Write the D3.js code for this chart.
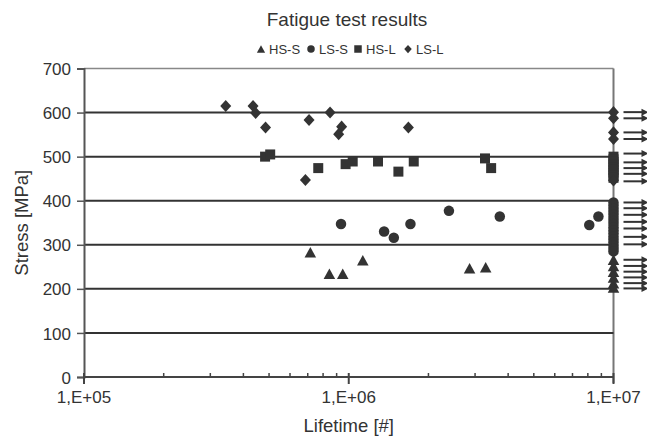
<!DOCTYPE html>
<html>
<head>
<meta charset="utf-8">
<script src="https://cdn.jsdelivr.net/npm/d3@7"></script>
<style>
  body { margin: 0; background: #fff; }
  text { font-family: "Liberation Sans", Arial, sans-serif; fill: #333; }
</style>
</head>
<body>
<div id="chart"></div>
<script>
// series data: [lifetime, stress]
const hsS = [[7.16e5, 283], [8.45e5, 234], [9.49e5, 234], [1.13e6, 265], [2.86e6, 247], [3.29e6, 249]];
const lsS = [[9.35e5, 347], [1.36e6, 330], [1.48e6, 316], [1.71e6, 347], [2.39e6, 377], [3.72e6, 364], [8.1e6, 345], [8.77e6, 364]];
const hsL = [[4.83e5, 500], [5.05e5, 505], [7.67e5, 474], [9.73e5, 483], [1.035e6, 489], [1.29e6, 489], [1.54e6, 466], [1.76e6, 489], [3.27e6, 496], [3.45e6, 474]];
const lsL = [[3.43e5, 615], [4.35e5, 615], [4.45e5, 599], [4.85e5, 566], [7.08e5, 583], [8.5e5, 600], [9.4e5, 568], [9.16e5, 551], [1.68e6, 566], [6.86e5, 447]];

// run-outs at the 1E+07 limit (stress only)
const runoutN = 1e7;
const hsSRunout = [266, 252, 239, 226, 213, 203];
const lsSRunout = [396, 389, 382, 375, 368, 361, 354, 347, 340, 333, 326, 319, 312, 305, 298, 291, 285];
const hsLRunout = [500, 494, 488, 482, 476, 470, 464, 458, 452];
const lsLRunout = [601, 587, 555, 540, 446];
const arrowStress = [601, 587, 555, 540, 507, 487, 474, 461, 444, 396, 383, 368, 352, 337, 318, 301, 266, 252, 239, 226, 213, 201];

const xTicks = [1e5, 1e6, 1e7];
const xTickLabels = ["1,E+05", "1,E+06", "1,E+07"];
const yTicks = [0, 100, 200, 300, 400, 500, 600, 700];
const gridStress = [100, 200, 300, 400, 500, 600];
const legendNames = ["HS-S", "LS-S", "HS-L", "LS-L"];

const W = 647, H = 444;
const margin = { left: 84, right: 33.5, top: 68.5, bottom: 67 };
const ink = "#333";

const svg = d3.select("#chart").append("svg")
  .attr("width", W).attr("height", H);

const x = d3.scaleLog().domain([1e5, 1e7]).range([margin.left, W - margin.right]);
const y = d3.scaleLinear().domain([0, 700]).range([H - margin.bottom, margin.top]);

// plot border (top + right)
svg.append("line")
  .attr("x1", x(1e5)).attr("x2", x(1e7))
  .attr("y1", y(700)).attr("y2", y(700))
  .attr("stroke", "#888").attr("stroke-width", 1.5);
svg.append("line")
  .attr("x1", x(1e7)).attr("x2", x(1e7))
  .attr("y1", y(700)).attr("y2", y(0) + 6)
  .attr("stroke", "#777").attr("stroke-width", 2);

// gridlines
svg.append("g").selectAll("line")
  .data(gridStress)
  .join("line")
    .attr("x1", x(1e5)).attr("x2", x(1e7))
    .attr("y1", d => y(d)).attr("y2", d => y(d))
    .attr("stroke", ink).attr("stroke-width", 2);

// y axis
const yAxis = svg.append("g")
  .attr("transform", `translate(${x(1e5)},0)`)
  .call(d3.axisLeft(y).tickValues(yTicks).tickSize(7).tickPadding(6));
yAxis.select(".domain").attr("stroke", "#555").attr("stroke-width", 2);
yAxis.selectAll(".tick line").attr("stroke", "#555").attr("stroke-width", 1.5);
yAxis.selectAll("text").style("font-size", "17px").attr("fill", ink).attr("dy", "0.36em");

// x axis: minor ticks pointing up, majors crossing
const minor = [];
[1e5, 1e6].forEach(dec => { for (let m = 2; m <= 9; m++) minor.push(dec * m); });
const xAxisG = svg.append("g");
xAxisG.append("line")
  .attr("x1", x(1e5)).attr("x2", x(1e7))
  .attr("y1", y(0)).attr("y2", y(0))
  .attr("stroke", "#444").attr("stroke-width", 2);
xAxisG.selectAll(".minor")
  .data(minor)
  .join("line")
    .attr("class", "minor")
    .attr("x1", d => x(d)).attr("x2", d => x(d))
    .attr("y1", y(0)).attr("y2", y(0) - 4)
    .attr("stroke", "#444").attr("stroke-width", 1.5);
xAxisG.selectAll(".major")
  .data(xTicks)
  .join("line")
    .attr("class", "major")
    .attr("x1", d => x(d)).attr("x2", d => x(d))
    .attr("y1", y(0) - 4).attr("y2", y(0) + 7)
    .attr("stroke", "#444").attr("stroke-width", 2);
xAxisG.selectAll("text")
  .data(xTicks)
  .join("text")
    .attr("x", d => x(d)).attr("y", y(0) + 26)
    .attr("text-anchor", "middle")
    .style("font-size", "17px")
    .text((d, i) => xTickLabels[i]);

// axis titles + title
svg.append("text")
  .attr("x", (x(1e5) + x(1e7)) / 2).attr("y", 432)
  .attr("text-anchor", "middle").style("font-size", "18.5px")
  .text("Lifetime [#]");
svg.append("text")
  .attr("transform", `translate(28,${(y(0) + y(700)) / 2}) rotate(-90)`)
  .attr("text-anchor", "middle").style("font-size", "18.5px")
  .text("Stress [MPa]");
svg.append("text")
  .attr("x", 347).attr("y", 26)
  .attr("text-anchor", "middle").style("font-size", "19px")
  .text("Fatigue test results");

// marker shapes
function markerPath(kind, s) {
  const h = s / 2;
  if (kind === 0) return `M0,${-h}L${h * 1.1},${h}L${-h * 1.1},${h}Z`;
  if (kind === 1) return d3.symbol(d3.symbolCircle, Math.PI * h * h)();
  if (kind === 2) return `M${-h},${-h}H${h}V${h}H${-h}Z`;
  return `M0,${-h * 1.1}L${h},0L0,${h * 1.1}L${-h},0Z`;
}
const sizes = [10.5, 10.5, 10, 11];

// runout arrows
const arrows = svg.append("g");
arrows.selectAll("line")
  .data(arrowStress)
  .join("line")
    .attr("x1", x(runoutN) + 10).attr("x2", x(runoutN) + 30)
    .attr("y1", d => y(d)).attr("y2", d => y(d))
    .attr("stroke", ink).attr("stroke-width", 2);
arrows.selectAll("path")
  .data(arrowStress)
  .join("path")
    .attr("transform", d => `translate(${x(runoutN) + 28},${y(d)})`)
    .attr("d", "M0,-3.5L7,0L0,3.5Z")
    .attr("fill", ink);

// points
const series = [
  { pts: hsS, runout: hsSRunout },
  { pts: lsS, runout: lsSRunout },
  { pts: hsL, runout: hsLRunout },
  { pts: lsL, runout: lsLRunout },
];
series.forEach((s, k) => {
  const all = s.pts.concat(s.runout.map(v => [runoutN, v]));
  svg.append("g").selectAll("path")
    .data(all)
    .join("path")
      .attr("transform", d => `translate(${x(d[0])},${y(d[1])})`)
      .attr("d", markerPath(k, sizes[k]))
      .attr("fill", ink);
});

// legend
const legendX = [261, 311, 358, 408];
const legend = svg.append("g");
legendNames.forEach((name, k) => {
  legend.append("path")
    .attr("transform", `translate(${legendX[k]},49)`)
    .attr("d", markerPath(k, 7.5))
    .attr("fill", ink);
  legend.append("text")
    .attr("x", legendX[k] + 8).attr("y", 53.5)
    .style("font-size", "13px")
    .text(name);
});
</script>
</body>
</html>
